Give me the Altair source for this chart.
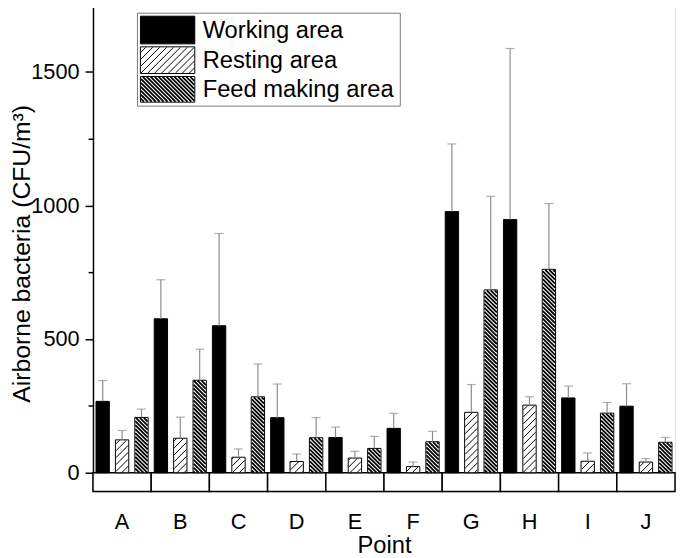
import math
import altair as alt
import pandas as pd

points = ["A", "B", "C", "D", "E", "F", "G", "H", "I", "J"]
areas = ["Working area", "Resting area", "Feed making area"]

working = [267, 576, 550, 206, 132, 166, 977, 947, 280, 249]
working_upper = [345, 722, 895, 332, 171, 222, 1230, 1587, 324, 333]
resting = [123, 129, 58, 42, 55, 23, 226, 253, 43, 40]
resting_upper = [158, 208, 89, 70, 80, 40, 330, 284, 74, 53]
feed = [207, 346, 284, 131, 91, 116, 684, 761, 223, 114]
feed_upper = [238, 462, 407, 206, 136, 155, 1034, 1007, 263, 132]

# ---- layout constants (pixels) ----
W, H = 589, 494
YMIN, YMAX = -70.2, 1756
KY = H / (YMAX - YMIN)
STEP = W / len(points)
SUB = STEP / 3
BAR_W = 13.5
P_INNER = 1 - BAR_W / SUB
FONT = "Liberation Sans"

def ypix(v):
    return (YMAX - v) * KY

def yval(p):
    return YMAX - p / KY

def hatch(xl, xr, yt, yb, period, direction):
    segs = []
    if direction == "/":
        cmin, cmax = xl + yt, xr + yb
        c = math.ceil(cmin / period) * period
        while c <= cmax:
            xa, xb = max(xl, c - yb), min(xr, c - yt)
            if xb - xa > 0.4:
                segs.append((xa, c - xa, xb, c - xb))
            c += period
    else:
        cmin, cmax = yt - xr, yb - xl
        c = math.ceil(cmin / period) * period
        while c <= cmax:
            xa, xb = max(xl, yt - c), min(xr, yb - c)
            if xb - xa > 0.4:
                segs.append((xa, xa + c, xb, xb + c))
            c += period
    return segs

def to_df(segs):
    return pd.DataFrame({
        "hx": [s[0] / STEP for s in segs],
        "hy": [yval(s[1]) for s in segs],
        "hx2": [s[2] / STEP for s in segs],
        "hy2": [yval(s[3]) for s in segs],
    })

# legend geometry (plot-relative pixels)
LEG_BOX = (45, 311, 10, 104)
SW_X = (48, 103)
SW_ROWS = [(13, 41), (44, 71), (74, 100)]
TXT_X = 111

PER_REST, PER_FEED = 7.0, 4.0

rest_segs, feed_segs = [], []
for i in range(len(points)):
    for j, vals, per, d, store in [(1, resting, PER_REST, "/", rest_segs),
                                   (2, feed, PER_FEED, "\\", feed_segs)]:
        cx = (i + (j + 0.5) / 3) * STEP
        store += hatch(cx - BAR_W / 2 + 0.5, cx + BAR_W / 2 - 0.5,
                       ypix(vals[i]) + 0.5, ypix(0), per, d)
rest_segs += hatch(SW_X[0] + 0.5, SW_X[1] - 0.5, SW_ROWS[1][0] + 0.5, SW_ROWS[1][1] - 0.5, PER_REST, "/")
feed_segs += hatch(SW_X[0] + 0.5, SW_X[1] - 0.5, SW_ROWS[2][0] + 0.5, SW_ROWS[2][1] - 0.5, PER_FEED, "\\")

rows = []
for a, vals, ups in zip(areas, [working, resting, feed], [working_upper, resting_upper, feed_upper]):
    for p, v, u in zip(points, vals, ups):
        rows.append({"point": p, "area": a, "value": v, "upper": u})
df = pd.DataFrame(rows)

xs = alt.Scale(domain=points, paddingInner=0, paddingOuter=0)
xos = alt.Scale(domain=areas, paddingInner=P_INNER, paddingOuter=P_INNER / 2)
ys = alt.Scale(domain=[YMIN, YMAX], nice=False, zero=False)

boxes = alt.Chart(pd.DataFrame({"point": points})).mark_rect(
    fill="white", stroke="black", strokeWidth=1.5
).encode(
    x=alt.X("point:N", sort=points, scale=xs, axis=None),
    y=alt.Y(datum=0, scale=ys, axis=None),
    y2=alt.value(H),
)

bars = alt.Chart(df).mark_bar(stroke="black", strokeWidth=1).encode(
    x=alt.X("point:N", sort=points, scale=xs,
            axis=alt.Axis(title="Point", labelAngle=0, ticks=False, domain=False,
                          labelFontSize=22, labelPadding=20, labelColor="black",
                          titleFontSize=24, titleFontWeight="normal", titleColor="black",
                          titleY=55, titleBaseline="middle", labelFont=FONT, titleFont=FONT)),
    xOffset=alt.XOffset("area:N", sort=areas, scale=xos),
    y=alt.Y("value:Q", scale=ys,
            axis=alt.Axis(orient="left", title="Airborne bacteria (CFU/m³)", values=[0, 500, 1000, 1500],
                          format="d", grid=False, tickSize=8, tickWidth=1.5, tickColor="black",
                          domainColor="black", domainWidth=1.5, labelFontSize=22,
                          labelPadding=6, labelColor="black", titleFontSize=25,
                          titleFontWeight="normal", titleColor="black", titleX=-72,
                          titleY=253, titleBaseline="middle", titleAlign="center",
                          labelFont=FONT, titleFont=FONT)),
    fill=alt.Fill("area:N", scale=alt.Scale(domain=areas, range=["black", "white", "white"]), legend=None),
)

errs = alt.Chart(df).mark_rule(color="#8c8c8c", strokeWidth=1.2).encode(
    x=alt.X("point:N", sort=points, scale=xs, axis=None),
    xOffset=alt.XOffset("area:N", sort=areas, scale=xos),
    y=alt.Y("value:Q", scale=ys, axis=None),
    y2="upper:Q",
)

caps = alt.Chart(df).mark_tick(color="#8c8c8c", thickness=1.2, size=9).encode(
    x=alt.X("point:N", sort=points, scale=xs, axis=None),
    xOffset=alt.XOffset("area:N", sort=areas, scale=xos),
    y=alt.Y("upper:Q", scale=ys, axis=None),
)

hs = alt.Scale(domain=[0, len(points)], nice=False, zero=False)

hatch_rest = alt.Chart(to_df(rest_segs)).mark_rule(color="black", strokeWidth=1).encode(
    x=alt.X("hx:Q", scale=hs, axis=None), x2="hx2:Q",
    y=alt.Y("hy:Q", scale=ys,
            axis=alt.Axis(orient="left", values=[250, 750, 1250], labels=False, domain=False,
                          grid=False, tickSize=5, tickWidth=1.5, tickColor="black", title=None)),
    y2="hy2:Q",
)
hatch_feed = alt.Chart(to_df(feed_segs)).mark_rule(color="black", strokeWidth=1.8).encode(
    x=alt.X("hx:Q", scale=hs, axis=None), x2="hx2:Q",
    y=alt.Y("hy:Q", scale=ys, axis=None), y2="hy2:Q",
)

one = pd.DataFrame({"k": [0]})
legend_layers = [
    alt.Chart(one).mark_rect(fill="white", stroke="#7a7a7a", strokeWidth=1).encode(
        x=alt.value(LEG_BOX[0]), x2=alt.value(LEG_BOX[1]),
        y=alt.value(LEG_BOX[2]), y2=alt.value(LEG_BOX[3]))
]
for (y0, y1), fillc in zip(SW_ROWS, ["black", "white", "white"]):
    legend_layers.append(
        alt.Chart(one).mark_rect(fill=fillc, stroke="black", strokeWidth=1).encode(
            x=alt.value(SW_X[0]), x2=alt.value(SW_X[1]), y=alt.value(y0), y2=alt.value(y1)))

texts = []
for (y0, y1), name in zip(SW_ROWS, areas):
    texts.append(
        alt.Chart(pd.DataFrame({"label": [name]})).mark_text(
            align="left", baseline="middle", fontSize=24, font=FONT, color="black"
        ).encode(x=alt.value(TXT_X), y=alt.value((y0 + y1) / 2 + 1), text="label:N"))

chart = alt.layer(boxes, bars, errs, caps, *legend_layers, hatch_rest, hatch_feed, *texts).resolve_scale(
    x="independent"
).resolve_axis(y="independent").properties(
    width=W, height=H,
    autosize=alt.AutoSizeParams(type="none"),
    padding={"left": 86, "top": -8, "right": 2, "bottom": 64},
    background="white",
).configure_view(stroke=None).configure(font=FONT)

chart.save("out.html", embed_options={"renderer": "svg", "actions": False})
